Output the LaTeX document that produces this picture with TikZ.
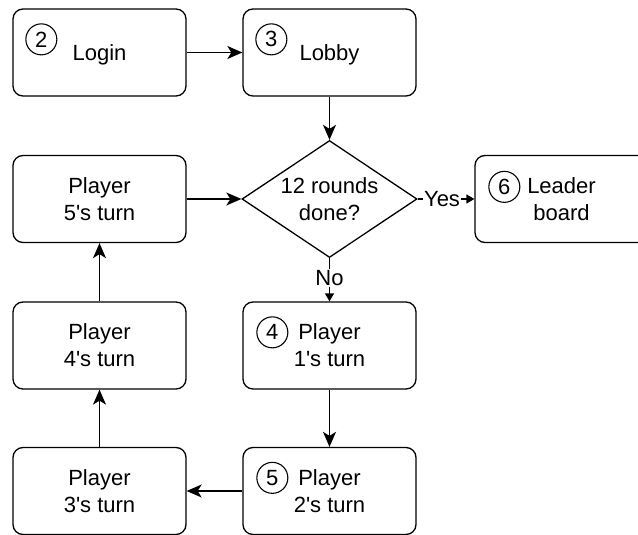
\documentclass[tikz,border=0pt]{standalone}
\usepackage{fontspec}
\setmainfont{Liberation Sans}
\usetikzlibrary{arrows.meta,shapes.geometric,calc}
\begin{document}
\begin{tikzpicture}[x=1pt,y=-1pt,
  box/.style={draw, line width=1.3pt, rounded corners=10pt, minimum width=173pt, minimum height=87pt, inner sep=0pt, align=center, font=\fontsize{22}{27}\selectfont},
  oneline/.style={text height=15.8pt, text depth=0pt},
  decision/.style={draw, diamond, line width=1.3pt, aspect=1.5, minimum width=175pt, minimum height=117pt, inner sep=0pt, align=center, font=\fontsize{22}{27}\selectfont},
  conn/.style={line width=1.4pt, -{Stealth[length=15pt,width=13pt,inset=4pt]}},
  smallconn/.style={line width=1.3pt, -{Triangle[length=8pt,width=9pt]}},
  num/.style={draw, circle, line width=1.1pt, minimum size=31pt, inner sep=0pt, font=\fontsize{22}{22}\selectfont},
  lab/.style={fill=white, inner sep=1.5pt, font=\fontsize{22}{26}\selectfont}
]
\useasboundingbox (0,0) rectangle (638,535);
\clip (0,0) rectangle (638,535);

\node[box, oneline] (login) at (99.5,52.5) {Login};
\node[box, oneline] (lobby) at (329.5,52.5) {Lobby};
\node[decision] (dec) at (329.5,199) {12 rounds\\done?};
\node[box] (p5) at (99.5,199) {Player\\5\textquotesingle s turn};
\node[box] (leader) at (561.5,199) {Leader\\board};
\node[box] (p1) at (329.5,345.5) {Player\\1\textquotesingle s turn};
\node[box] (p4) at (99.5,345.5) {Player\\4\textquotesingle s turn};
\node[box] (p2) at (329.5,491) {Player\\2\textquotesingle s turn};
\node[box] (p3) at (99.5,491) {Player\\3\textquotesingle s turn};

\node[num] (n2) at ($(login.north west)+(29,31)$) {2};
\node[num] (n3) at ($(lobby.north west)+(29,31)$) {3};
\node[num] (n6) at ($(leader.north west)+(30,32)$) {6};
\node[num] (n4) at ($(p1.north west)+(30,31)$) {4};
\node[num] (n5) at ($(p2.north west)+(30,31)$) {5};

\draw[conn] (login) -- (lobby);
\draw[conn] (lobby) -- (dec);
\draw[conn] (p5) -- (dec);
\draw[smallconn] (dec) -- node[lab, pos=0.43] {Yes} (leader);
\draw[smallconn] (dec) -- node[lab, pos=0.46] {No} (p1);
\draw[conn] (p1) -- (p2);
\draw[conn] (p2) -- (p3);
\draw[conn] (p3) -- (p4);
\draw[conn] (p4) -- (p5);
\end{tikzpicture}
\end{document}
